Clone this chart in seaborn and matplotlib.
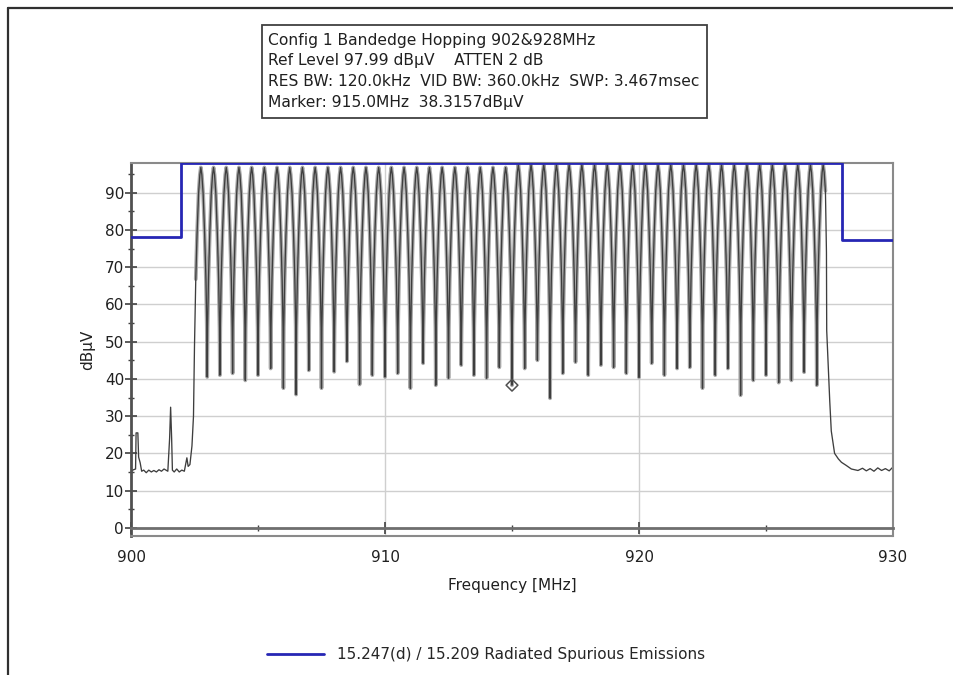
import numpy as np
import pandas as pd
import matplotlib
matplotlib.use("Agg")
import matplotlib.pyplot as plt
from matplotlib.lines import Line2D
from matplotlib.patches import Rectangle
from matplotlib.ticker import FixedLocator
import seaborn as sns

# ---------------- data ----------------
# hopping channel centre frequencies [MHz]
CH_FREQ = [902.75, 903.25, 903.75, 904.25, 904.75, 905.25, 905.75, 906.25, 906.75, 907.25,
           907.75, 908.25, 908.75, 909.25, 909.75, 910.25, 910.75, 911.25, 911.75, 912.25,
           912.75, 913.25, 913.75, 914.25, 914.75, 915.25, 915.75, 916.25, 916.75, 917.25,
           917.75, 918.25, 918.75, 919.25, 919.75, 920.25, 920.75, 921.25, 921.75, 922.25,
           922.75, 923.25, 923.75, 924.25, 924.75, 925.25, 925.75, 926.25, 926.75, 927.25]
# peak level of each channel [dBuV]
CH_PEAK = [96.8] * 25 + [97.5] * 25
# minimum between neighbouring channels [dBuV]
GAP_DIP = [40.5, 41.0, 41.5, 39.6, 41.0, 42.8, 37.5, 35.8, 42.3, 37.5, 41.9, 44.7, 38.5, 41.0, 40.5,
           41.5, 37.5, 44.2, 38.3, 40.2, 43.7, 41.0, 40.2, 43.1, 38.3, 42.8, 45.0, 34.8, 41.5, 44.5,
           41.0, 43.7, 43.1, 41.5, 40.4, 44.2, 41.0, 42.8, 43.1, 37.5, 41.0, 42.8, 35.6, 39.6, 41.0,
           39.0, 39.6, 41.8, 38.3]
# shape of one hop channel: offset from centre [MHz] and drop below the peak [dB]
PROFILE_OFFSET = [-0.235, -0.2, -0.15, -0.09, -0.04, 0.0, 0.04, 0.09, 0.15, 0.2, 0.235]
PROFILE_DROP = [43.0, 30.0, 18.0, 7.0, 2.0, 0.0, 2.0, 7.0, 18.0, 30.0, 43.0]
# noise floor below the band
LOW_FREQ = [900.02, 900.10, 900.18, 900.20, 900.27, 900.30, 900.36, 900.42, 900.50, 900.60,
            900.70, 900.80, 900.90, 901.00, 901.10, 901.20, 901.30, 901.45, 901.52, 901.56,
            901.60, 901.63, 901.70, 901.80, 901.90, 902.00, 902.10, 902.20, 902.25, 902.32,
            902.40, 902.46, 902.50]
LOW_LEVEL = [15.3, 15.6, 15.8, 25.5, 25.5, 19.0, 17.5, 15.2, 15.5, 14.8,
             15.5, 15.0, 15.4, 15.0, 15.6, 15.2, 15.8, 15.2, 24.0, 32.4,
             24.0, 15.5, 15.0, 15.8, 15.0, 15.5, 15.2, 18.8, 16.5, 17.0,
             22.0, 30.0, 49.0]
# roll-off and noise floor above the band
HIGH_FREQ = [927.38, 927.39, 927.51, 927.57, 927.70, 927.85, 927.97, 928.15, 928.36, 928.62,
             928.80, 928.95, 929.10, 929.25, 929.40, 929.55, 929.70, 929.85, 929.98]
HIGH_LEVEL = [74.0, 53.0, 34.0, 26.0, 20.0, 18.5, 17.6, 16.8, 15.8, 15.4,
              16.0, 15.3, 15.9, 15.2, 16.1, 15.4, 15.9, 15.3, 16.2]
# limit line (15.247(d) / 15.209)
LIMIT_FREQ = [900.0, 901.95, 901.95, 928.0, 928.0, 930.0]
LIMIT_LEVEL = [78.0, 78.0, 97.99, 97.99, 77.2, 77.2]
MARKER_FREQ = [915.0]
MARKER_LEVEL = [38.3157]

HEADER = ["Config 1 Bandedge Hopping 902&928MHz",
          "Ref Level 97.99 dB\u00b5V    ATTEN 2 dB",
          "RES BW: 120.0kHz  VID BW: 360.0kHz  SWP: 3.467msec",
          "Marker: 915.0MHz  38.3157dB\u00b5V"]
LEGEND_LABEL = "15.247(d) / 15.209 Radiated Spurious Emissions"

# ---------------- build trace vertices from the values above ----------------
bx, by = [], []
for i, (c, p) in enumerate(zip(CH_FREQ, CH_PEAK)):
    for off, drop in zip(PROFILE_OFFSET, PROFILE_DROP):
        if i == 0 and off < -0.2:
            continue
        if i == len(CH_FREQ) - 1 and off > 0.13:
            continue
        bx.append(c + off)
        by.append(p - drop)
    if i < len(GAP_DIP):
        bx.append(c + 0.25)
        by.append(GAP_DIP[i])
band = pd.DataFrame({"freq": bx, "level": by})
trace = pd.DataFrame({"freq": list(LOW_FREQ) + bx + list(HIGH_FREQ),
                      "level": list(LOW_LEVEL) + by + list(HIGH_LEVEL)})
limit = pd.DataFrame({"freq": LIMIT_FREQ, "level": LIMIT_LEVEL})
marker = pd.DataFrame({"freq": MARKER_FREQ, "level": MARKER_LEVEL})

# ---------------- drawing ----------------
sns.set_theme(style="white")
plt.rcParams["font.family"] = ["DejaVu Sans"]
FS = 11

W, H = 954, 675
fig = plt.figure(figsize=(W / 100, H / 100), dpi=100)
ax = fig.add_axes([131 / W, 1 - 536 / H, (893 - 131) / W, (536 - 163) / H])

for yv in range(10, 100, 10):
    ax.axhline(yv, color="#cfcfcf", lw=1.0, zorder=0)
for xv in (910, 920):
    ax.axvline(xv, color="#cfcfcf", lw=1.0, zorder=0)

# wide soft band trace + thin dark core to mimic the analyser's dense trace
sns.lineplot(data=band, x="freq", y="level", ax=ax, estimator=None, sort=False,
             color="#a8a8a8", lw=2.7, zorder=2)
sns.lineplot(data=trace, x="freq", y="level", ax=ax, estimator=None, sort=False,
             color="#3e3e3e", lw=0.95, zorder=2)
sns.lineplot(data=limit, x="freq", y="level", ax=ax, estimator=None, sort=False,
             color="#2626b4", lw=2.0, zorder=3)
sns.scatterplot(data=marker, x="freq", y="level", ax=ax, marker="D", s=36,
                facecolor="none", edgecolor="#505050", linewidth=1.1, zorder=4)

ax.set_xlim(900, 930)
ax.set_ylim(-2.2, 98.0)

ax.xaxis.set_major_locator(FixedLocator([900, 910, 920, 930]))
ax.xaxis.set_minor_locator(FixedLocator([905, 915, 925]))
ax.yaxis.set_major_locator(FixedLocator(list(range(0, 100, 10))))
ax.yaxis.set_minor_locator(FixedLocator(list(range(5, 100, 10))))

# zero line carries the x ticks
ax.spines["bottom"].set_position(("data", 0))
ax.spines["bottom"].set_color("#6e6e6e")
ax.spines["bottom"].set_linewidth(2.0)
ax.add_line(Line2D([0, 1], [0, 0], transform=ax.transAxes, color="#8a8a8a", lw=1.5,
                   clip_on=False, zorder=5))
for side in ("top", "right"):
    ax.spines[side].set_color("#8a8a8a")
    ax.spines[side].set_linewidth(1.5)
ax.spines["left"].set_color("#505050")
ax.spines["left"].set_linewidth(2.0)

ax.tick_params(axis="both", which="both", bottom=True, left=True, top=False, right=False)
ax.tick_params(axis="both", which="major", direction="inout", length=8, width=1.2,
               color="#404040", labelsize=FS, labelcolor="#202020")
ax.tick_params(axis="both", which="minor", direction="inout", length=5, width=1.0,
               color="#404040")
ax.tick_params(axis="x", which="major", pad=12)
ax.tick_params(axis="y", which="major", pad=1)

ax.set_xlabel("Frequency [MHz]", fontsize=FS, color="#202020", labelpad=9)
ax.set_ylabel("dB\u00b5V", fontsize=FS, color="#202020", labelpad=7)

handles = [Line2D([0], [0], color="#2626b4", lw=2.0)]
fig.legend(handles, [LEGEND_LABEL], loc="center", bbox_to_anchor=(486 / W, 1 - 655 / H),
           frameon=False, fontsize=FS, handlelength=3.7, handletextpad=0.85)

# header box
fig.patches.append(Rectangle((262 / W, 1 - 118 / H), (707 - 262) / W, (118 - 25) / H,
                             transform=fig.transFigure, fill=False, ec="#404040", lw=1.3))
for k, line in enumerate(HEADER):
    fig.text(268 / W, 1 - (40 + 21 * k) / H, line, fontsize=11.2, va="center", ha="left",
             color="#202020")

# outer frame (left and top edges)
fig.lines.append(Line2D([8 / W, 8 / W], [0, 1 - 8 / H], transform=fig.transFigure,
                        color="#303030", lw=1.6))
fig.lines.append(Line2D([8 / W, 1], [1 - 8 / H, 1 - 8 / H], transform=fig.transFigure,
                        color="#303030", lw=1.6))

fig.savefig("out.png", dpi=100, facecolor="white")
